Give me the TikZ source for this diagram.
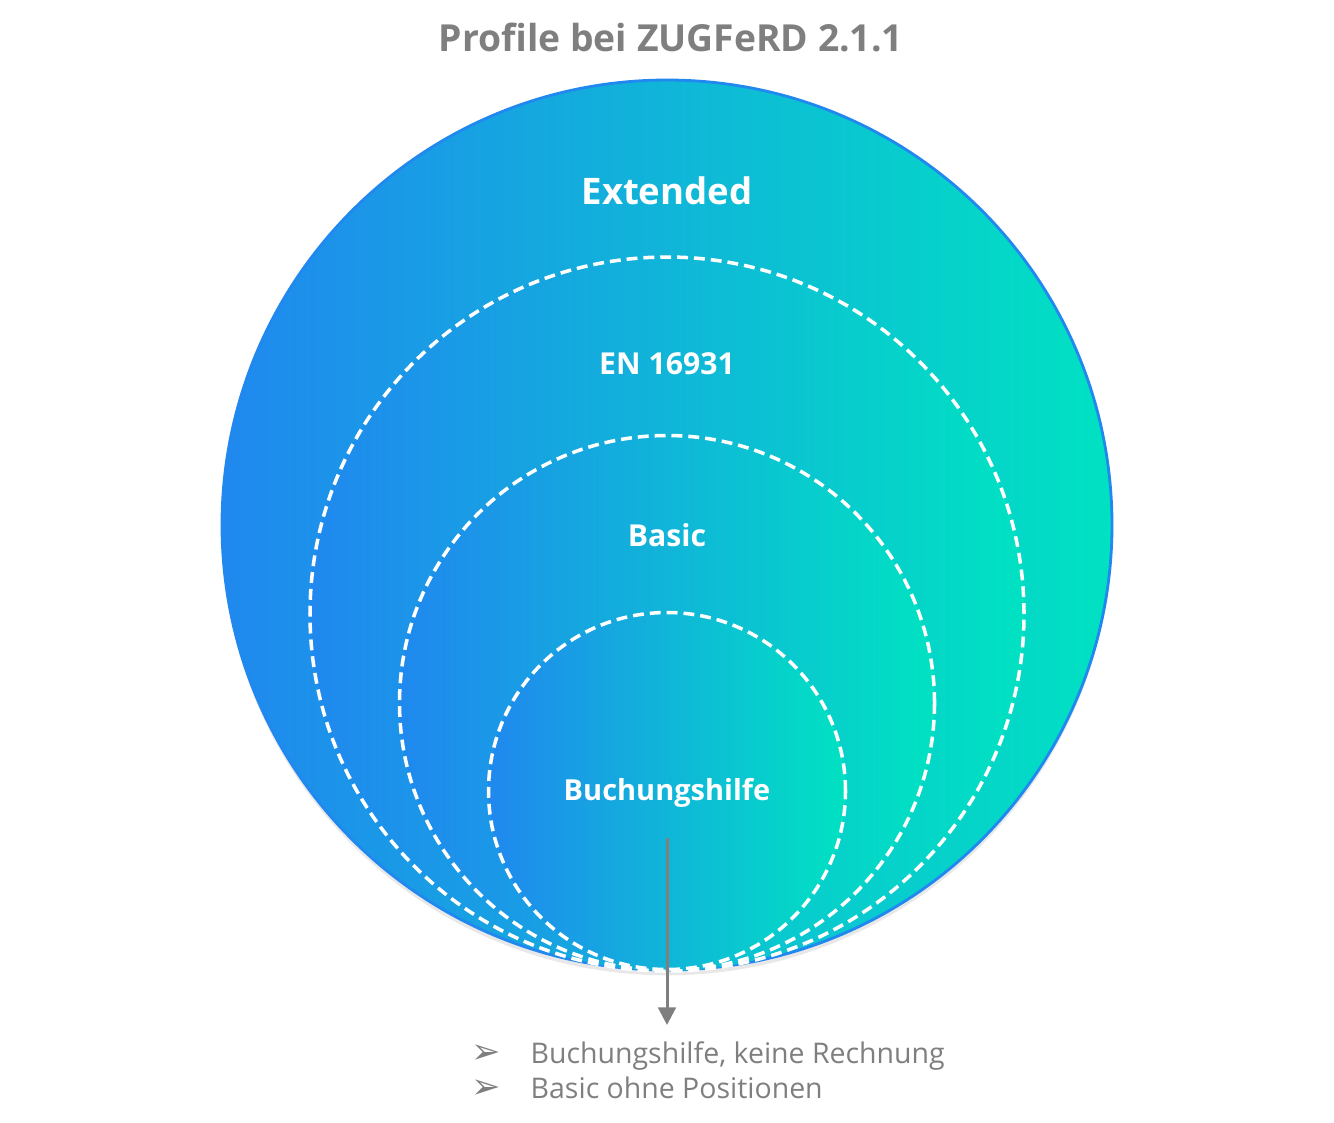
\documentclass[tikz,border=0pt]{standalone}
\usepackage{fontspec}
\setmainfont{Open Sans}
\setsansfont{Open Sans}
\newfontfamily\symfont{DejaVu Sans}
\usepackage{tikz}
\usetikzlibrary{arrows.meta,positioning,shadows}
\definecolor{zblue}{HTML}{2088EF}
\definecolor{zteal}{HTML}{00E2C2}
\definecolor{zgray}{HTML}{7F7F7F}

\begin{document}
\begin{tikzpicture}[
scale=1,
font=\sffamily,
profile/.style={circle,inner sep=0pt,left color=zblue,right color=zteal},
border/.style={profile,draw=zblue,line width=0.8pt,drop shadow={opacity=0.18,shadow xshift=0pt,shadow yshift=-1.5pt}},
subset/.style={profile,draw=white,line width=1pt,dash pattern=on 3.1pt off 1.7pt},
label/.style={text=white,font=\bfseries\sffamily},
point/.style={text=zgray,font=\sffamily\fontsize{8.1}{10}\selectfont,anchor=base west,inner sep=0pt},
bullet/.style={text=zgray,font=\symfont\fontsize{10}{12}\selectfont,anchor=base east,inner sep=0pt}
]
\useasboundingbox (0,0) rectangle (13.34,-11.22);

% Title
\node (title) at (6.71,-0.37) [text=zgray,font=\bfseries\sffamily\fontsize{10.6}{12}\selectfont] {Profile bei ZUGFeRD 2.1.1};

% Draw circles
\node (ext) at (6.67,-5.25) [border,minimum size=8.9cm] {};
\node (en) at (6.67,-6.14) [subset,minimum size=7.14cm] {};
\node (basic) at (6.67,-7.03) [subset,minimum size=5.35cm] {};
\node (buch) at (6.67,-7.91) [subset,minimum size=3.57cm] {};

% Profile names
\node (extL) at (6.67,-1.91) [label,font=\bfseries\sffamily\fontsize{10.4}{12}\selectfont] {Extended};
\node (enL) at (6.67,-3.64) [label,font=\bfseries\sffamily\fontsize{8.6}{10}\selectfont] {EN 16931};
\node (basicL) at (6.67,-5.35) [label,font=\bfseries\sffamily\fontsize{8.6}{10}\selectfont] {Basic};
\node (buchL) at (6.67,-7.93) [label,font=\bfseries\sffamily\fontsize{8.25}{10}\selectfont] {Buchungshilfe};

% Notes below
\coordinate (from) at (6.67,-8.38);
\coordinate (to) at (6.67,-10.25);
\draw [-{Triangle[length=5pt,width=5pt]},zgray,line width=0.85pt] (from) -- (to);

\node (p1) at (5.30,-10.63) [point] {Buchungshilfe, keine Rechnung};
\node (p2) at (5.30,-10.98) [point] {Basic ohne Positionen};
\node (b1) [left=0.28cm of p1.base west,bullet] {➢};
\node (b2) [left=0.28cm of p2.base west,bullet] {➢};
\end{tikzpicture}
\end{document}
